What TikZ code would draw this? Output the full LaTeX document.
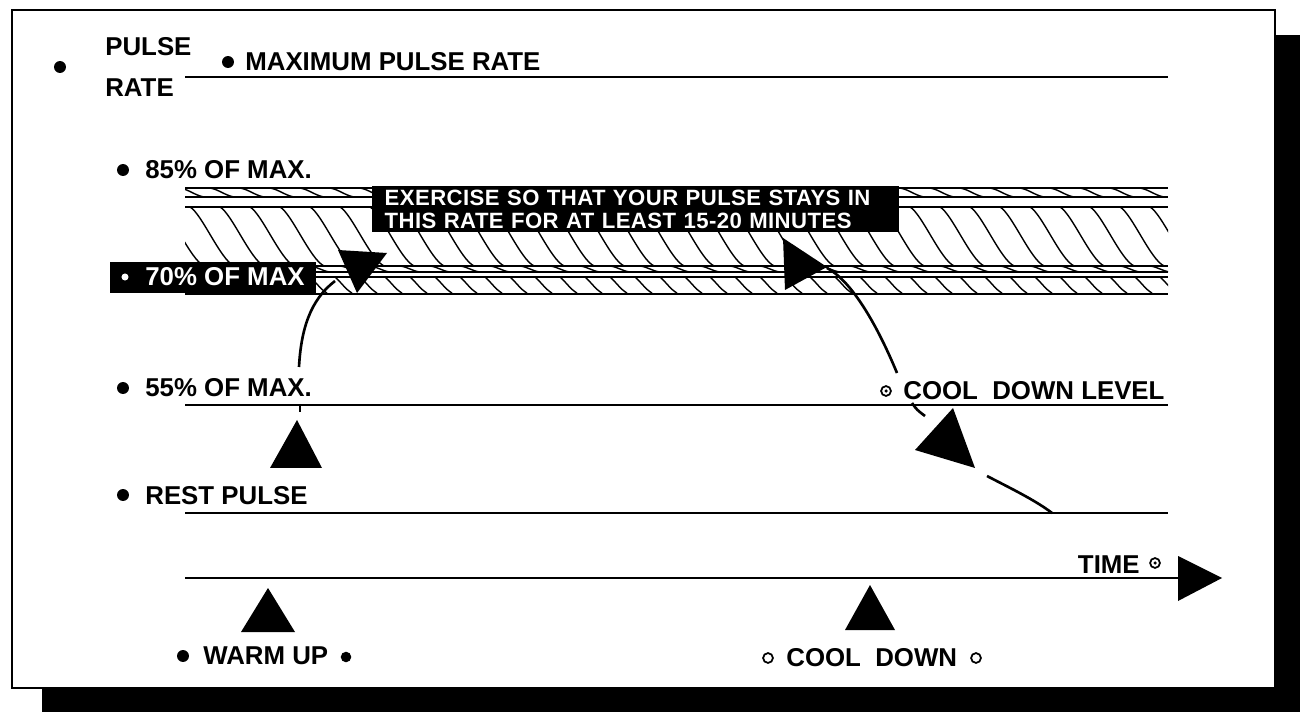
\documentclass[tikz,border=0pt]{standalone}
\usepackage{fontspec}
\setmainfont{Liberation Sans}
\begin{document}
\begin{tikzpicture}[x=0.02cm,y=-0.02cm,
  lbl/.style={anchor=base west, inner sep=0pt, font=\fontsize{14.7}{17}\selectfont\bfseries},
  dotf/.style={circle, fill=black, inner sep=0pt, minimum size=6.8pt},
  doto/.style={circle, draw=black, line width=1pt, inner sep=0pt, minimum size=5.6pt},
  doti/.style={doto, path picture={\fill[black] (path picture bounding box.center) circle (1pt);}},
  lvl/.style={line width=1.2pt},
  thin/.style={line width=0.8pt},
  hatch/.style={line width=0.8pt},
  curvel/.style={line width=1.5pt},
  ]
\useasboundingbox (0,0) rectangle (1307,715);
% shadow and frame
\fill[black] (42,35) rectangle (1300,712);
\draw[line width=1.3pt, fill=white] (12,10) rectangle (1275,688);

% level lines
\draw[lvl] (185,77) -- (1168,77);
\draw[lvl] (185,405) -- (1168,405);
\draw[lvl] (185,513) -- (1168,513);

% hatched band
\begin{scope}
  \clip (185,188) rectangle (1168,293);
  \foreach \x in {100,130,...,1190}
    \draw[hatch] (\x,207) .. controls (\x+12,214) and (\x+30,259) .. (\x+44,266);
  \foreach \x in {150,180,...,1190} {
    \draw[hatch] (\x,188) .. controls (\x+10,190) and (\x+14,195) .. (\x+24,197);
    \draw[hatch] (\x+10,266) .. controls (\x+18,267) and (\x+22,271) .. (\x+30,272);
  }
  \foreach \x in {160,185,...,1190}
    \draw[hatch] (\x,277) .. controls (\x+5,281) and (\x+11,290) .. (\x+17,293);
\end{scope}
\draw[lvl] (185,188) -- (1168,188);
\draw[thin] (185,197) -- (1168,197);
\draw[thin] (185,207) -- (1168,207);
\draw[thin] (185,266) -- (1168,266);
\draw[thin] (185,272) -- (1168,272);
\draw[thin] (185,277) -- (1168,277);
\draw[lvl] (185,294) -- (1168,294);

% black boxes
\node[fill=black, text=white, anchor=north west, inner xsep=7pt, inner ysep=0pt,
      minimum height=26.2pt, text width=286pt, align=left,
      font=\fontsize{12.6}{12.8}\selectfont\bfseries\addfontfeatures{LetterSpace=2}] (ex) at (372,186)
      {EXERCISE SO THAT YOUR PULSE STAYS IN\\THIS RATE FOR AT LEAST 15-20 MINUTES};
\node[fill=black, anchor=north west, inner sep=0pt, minimum width=117pt, minimum height=17.6pt] (box70) at (110,262) {};
\node[circle, fill=white, inner sep=0pt, minimum size=4pt] (d70) at (125,277) {};
\node[lbl, text=white] (t70) at (145,286) {70\% OF MAX};

% labels
\node[dotf] (dpr) at (60,67) {};
\node[anchor=west, inner sep=0pt, align=left, font=\fontsize{14.7}{23.3}\selectfont\bfseries] (tpr) at (105,67) {PULSE\\RATE};
\node[dotf] (dmax) at (228,62) {};
\node[lbl] (tmax) at (245,71) {MAXIMUM PULSE RATE};
\node[dotf] (d85) at (123,170) {};
\node[lbl] (t85) at (145,179) {85\% OF MAX.};
\node[dotf] (d55) at (123,388) {};
\node[lbl] (t55) at (145,397) {55\% OF MAX.};
\node[dotf] (drest) at (123,495) {};
\node[lbl] (trest) at (145,504) {REST PULSE};
\node[doti] (dcl) at (886,391) {};
\node[lbl] (tcl) at (903,400) {COOL\ \ DOWN LEVEL};
\node[lbl, anchor=base east] (ttime) at (1140,573) {TIME};
\node[doti] (dtime) at (1155,563) {};
\node[dotf] (dwu1) at (183,656) {};
\node[lbl] (twu) at (203,664) {WARM UP};
\node[dotf, minimum size=6pt] (dwu2) at (346,657) {};
\node[doto] (dcd1) at (768,658) {};
\node[lbl] (tcd) at (786,666) {COOL\ \ DOWN};
\node[doto] (dcd2) at (976,658) {};

% time axis
\coordinate (ax0) at (185,578);
\coordinate (ax1) at (1185,578);
\draw[lvl] (ax0) -- (ax1);
\fill (1178,556) -- (1222,578) -- (1178,601) -- cycle;

% triangles
\fill (241,632) -- (295,632) -- (268,588) -- cycle;
\fill (845,630) -- (895,630) -- (870,585) -- cycle;
\fill (270,468) -- (322,468) -- (297,420) -- cycle;

% warm-up curve with arrowhead
\coordinate (wu0) at (299,367);
\coordinate (wu1) at (335,281);
\draw[curvel] (wu0) .. controls (301,330) and (310,300) .. (wu1);
\fill (338,250) -- (387,253) -- (357,293) -- cycle;
\draw[lvl] (300,404) -- (300,412);

% cool-down curve
\fill (783,238) -- (827,267) -- (785,290) -- cycle;
\coordinate (cd0) at (827,268);
\coordinate (cd1) at (897,373);
\draw[curvel] (cd0) .. controls (850,280) and (875,320) .. (cd1);
\coordinate (cd2) at (912,403);
\coordinate (cd3) at (925,416);
\draw[curvel] (cd2) .. controls (917,410) .. (cd3);
\fill (915,450) -- (953,408) -- (975,468) -- cycle;
\coordinate (cd4) at (987,476);
\coordinate (cd5) at (1052,513);
\draw[curvel] (cd4) .. controls (1010,488) and (1035,500) .. (cd5);
\end{tikzpicture}
\end{document}
